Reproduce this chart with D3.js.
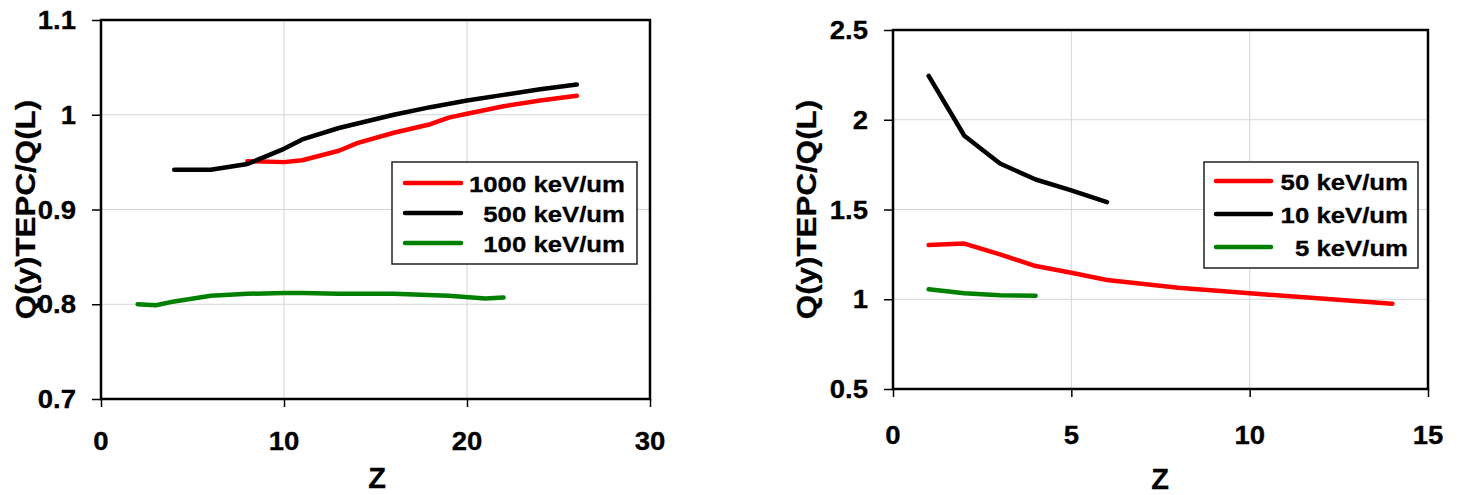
<!DOCTYPE html>
<html>
<head>
<meta charset="utf-8">
<script src="https://cdn.jsdelivr.net/npm/d3@7"></script>
<style>
    body { margin: 0; background: #fff; }
    text { font-family: "Liberation Sans", Arial, sans-serif; font-weight: bold; fill: #000; stroke: #000; stroke-width: 0.3px; }
</style>
</head>
<body>
<script>
// ---- left chart data (high LET) ----
var z1000 = [8, 10, 11, 13, 14, 16, 18, 19, 20, 22, 24, 26];
var q1000 = [0.951, 0.950, 0.952, 0.962, 0.970, 0.981, 0.990, 0.997, 1.001, 1.009, 1.015, 1.020];
var z500 = [4, 6, 8, 10, 11, 13, 16, 18, 20, 22, 24, 26];
var q500 = [0.942, 0.942, 0.948, 0.964, 0.974, 0.986, 1.000, 1.008, 1.015, 1.021, 1.027, 1.032];
var z100 = [2, 3, 4, 6, 8, 10, 11, 13, 16, 19, 21, 22];
var q100 = [0.800, 0.799, 0.803, 0.809, 0.811, 0.812, 0.812, 0.811, 0.811, 0.809, 0.806, 0.807];

// ---- right chart data (low LET) ----
var z50 = [1, 2, 3, 4, 5, 6, 8, 10, 12, 14];
var q50 = [1.302, 1.310, 1.250, 1.185, 1.148, 1.107, 1.064, 1.033, 1.004, 0.975];
var z10 = [1, 2, 3, 4, 5, 6];
var q10 = [2.244, 1.911, 1.756, 1.667, 1.607, 1.541];
var z5 = [1, 2, 3, 4];
var q5 = [1.056, 1.033, 1.022, 1.019];

var leftLabels = ["1000 keV/um", "500 keV/um", "100 keV/um"];
var rightLabels = ["50 keV/um", "10 keV/um", "5 keV/um"];
var leftXTicks = [0, 10, 20, 30];
var leftYTicks = [0.7, 0.8, 0.9, 1.0, 1.1];
var rightXTicks = [0, 5, 10, 15];
var rightYTicks = [0.5, 1.0, 1.5, 2.0, 2.5];

var colors = ["#ff0000", "#000000", "#008000"];

var zip = function(xs, ys) {
    return xs.map(function(x, i) { return { x: x, y: ys[i] }; });
};

var svg = d3.select("body").append("svg")
    .attr("width", 1460)
    .attr("height", 495);

// text in the picture is a little wider than Liberation Sans Bold
var addText = function(g, x, y, str, size, sx, anchor, rotate) {
    return g.append("text")
        .attr("transform", "translate(" + x + "," + y + ")" + (rotate ? " rotate(-90)" : "") + " scale(" + sx + ",1)")
        .attr("text-anchor", anchor)
        .style("font-size", size + "px")
        .text(str);
};

var drawChart = function(opt) {
    var x = d3.scaleLinear().domain(opt.xDomain).range([opt.left, opt.right]);
    var y = d3.scaleLinear().domain(opt.yDomain).range([opt.bottom, opt.top]);
    var g = svg.append("g");

    // grid
    g.selectAll(".vgrid").data(opt.xTicks.slice(1, -1)).enter().append("line")
        .attr("x1", function(d) { return x(d); }).attr("x2", function(d) { return x(d); })
        .attr("y1", opt.top).attr("y2", opt.bottom)
        .attr("stroke", "#d4d4d4").attr("stroke-width", 1);
    g.selectAll(".hgrid").data(opt.yTicks.slice(1, -1)).enter().append("line")
        .attr("y1", function(d) { return y(d); }).attr("y2", function(d) { return y(d); })
        .attr("x1", opt.left).attr("x2", opt.right)
        .attr("stroke", "#d4d4d4").attr("stroke-width", 1);

    // axes (ticks only, labels drawn separately)
    g.append("g")
        .attr("transform", "translate(0," + opt.bottom + ")")
        .call(d3.axisBottom(x).tickValues(opt.xTicks).tickSize(8).tickFormat(""))
        .call(function(a) { a.select(".domain").remove(); a.selectAll("line").attr("stroke-width", 1.5); });
    g.append("g")
        .attr("transform", "translate(" + opt.left + ",0)")
        .call(d3.axisLeft(y).tickValues(opt.yTicks).tickSize(9).tickFormat(""))
        .call(function(a) { a.select(".domain").remove(); a.selectAll("line").attr("stroke-width", 1.5); });

    opt.xTicks.forEach(function(t) {
        addText(g, x(t), opt.bottom + opt.xLabelGap, d3.format("")(t), 25, 1.1, "middle");
    });
    opt.yTicks.forEach(function(t) {
        addText(g, opt.left - 25, y(t) + 9, d3.format("")(t), 25, 1.1, "end");
    });

    // frame
    g.append("rect")
        .attr("x", opt.left).attr("y", opt.top)
        .attr("width", opt.right - opt.left).attr("height", opt.bottom - opt.top)
        .attr("fill", "none").attr("stroke", "#000").attr("stroke-width", 2.5);

    // series
    var line = d3.line()
        .x(function(d) { return x(d.x); })
        .y(function(d) { return y(d.y); });
    opt.series.forEach(function(s, i) {
        g.append("path")
            .datum(s)
            .attr("d", line)
            .attr("fill", "none")
            .attr("stroke", colors[i])
            .attr("stroke-width", 4.5)
            .attr("stroke-linejoin", "round")
            .attr("stroke-linecap", "round");
    });

    // legend
    var lg = opt.legend;
    g.append("rect")
        .attr("x", lg.x).attr("y", lg.y).attr("width", lg.w).attr("height", lg.h)
        .attr("fill", "#fff").attr("stroke", "#222").attr("stroke-width", 1.5);
    opt.labels.forEach(function(label, i) {
        var ry = lg.rows[i];
        g.append("line")
            .attr("x1", lg.lx1).attr("x2", lg.lx2)
            .attr("y1", ry).attr("y2", ry)
            .attr("stroke", colors[i]).attr("stroke-width", 4.5).attr("stroke-linecap", "round");
        addText(g, lg.tx, ry + 8.5, label, 23, 1.12, "end");
    });

    // axis titles
    addText(g, opt.zx, opt.zy, "Z", 29, 1, "middle");
    addText(g, opt.qx, (opt.top + opt.bottom) / 2, "Q(y)TEPC/Q(L)", 28, 1.12, "middle", true);
};

drawChart({
    left: 101, right: 650, top: 20, bottom: 399,
    xDomain: [0, 30], yDomain: [0.7, 1.1],
    xTicks: leftXTicks, yTicks: leftYTicks, xLabelGap: 51,
    series: [zip(z1000, q1000), zip(z500, q500), zip(z100, q100)],
    labels: leftLabels,
    legend: { x: 392, y: 162, w: 245, h: 102, lx1: 405, lx2: 461, tx: 625, rows: [183, 213, 243] },
    zx: 377, zy: 488, qx: 35
});

drawChart({
    left: 893, right: 1428, top: 30, bottom: 389,
    xDomain: [0, 15], yDomain: [0.5, 2.5],
    xTicks: rightXTicks, yTicks: rightYTicks, xLabelGap: 55,
    series: [zip(z50, q50), zip(z10, q10), zip(z5, q5)],
    labels: rightLabels,
    legend: { x: 1204, y: 162, w: 214, h: 106, lx1: 1216, lx2: 1271, tx: 1408, rows: [181, 214, 247] },
    zx: 1160, zy: 489, qx: 816
});
</script>
</body>
</html>
